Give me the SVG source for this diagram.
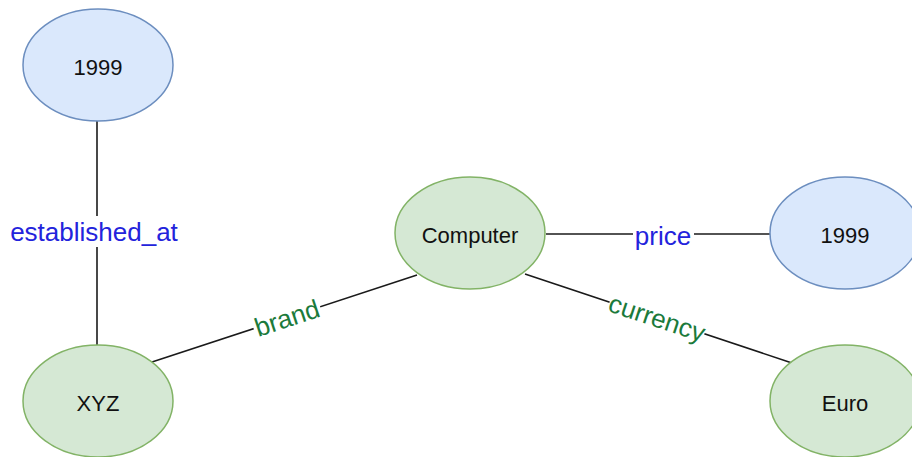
<svg xmlns="http://www.w3.org/2000/svg" width="912" height="457" viewBox="0 0 912 457">
  <style>
    .blue ellipse { fill: #dae8fc; stroke: #6c8ebf; stroke-width: 1.5; }
    .green ellipse { fill: #d5e8d4; stroke: #82b366; stroke-width: 1.5; }
    .node text { font-family: "Liberation Sans", Arial, sans-serif; font-size: 22px; fill: #111; text-anchor: middle; }
    .edge { stroke: #1a1a1a; stroke-width: 1.6; fill: none; }
    .lbl { font-family: "Liberation Sans", Arial, sans-serif; font-size: 26px; text-anchor: middle; }
    .lbl-blue { fill: #2323dc; }
    .lbl-green { fill: #1b7a3b; }
    .lbl-bg { fill: #ffffff; }
  </style>
  <rect width="912" height="457" fill="#ffffff"/>

  <g id="connectors">
    <!-- XYZ -> 1999 -->
    <line class="edge" x1="97" y1="121" x2="97" y2="345"/>
    <rect class="lbl-bg" x="8" y="216" width="172" height="31"/>
    <text class="lbl lbl-blue" x="94" y="241">established_at</text>

    <!-- Computer -> 1999 -->
    <line class="edge" x1="546" y1="234" x2="770" y2="234"/>
    <rect class="lbl-bg" x="633" y="220" width="61" height="30"/>
    <text class="lbl lbl-blue" x="663" y="245">price</text>

    <!-- XYZ -> Computer -->
    <line class="edge" x1="152" y1="362" x2="417" y2="275"/>
    <g transform="translate(287,318) rotate(-18.2)">
      <rect class="lbl-bg" x="-35" y="-15" width="70" height="29"/>
      <text class="lbl lbl-green" x="0" y="9">brand</text>
    </g>

    <!-- Computer -> Euro -->
    <line class="edge" x1="525" y1="274" x2="792" y2="363"/>
    <g transform="translate(657,318) rotate(18.4)">
      <rect class="lbl-bg" x="-50" y="-15" width="100" height="29"/>
      <text class="lbl lbl-green" x="0" y="9">currency</text>
    </g>
  </g>

  <g id="node-year-established" class="node blue">
    <ellipse cx="98" cy="65" rx="75" ry="56"/>
    <text x="98" y="75">1999</text>
  </g>

  <g id="node-xyz" class="node green">
    <ellipse cx="98" cy="401" rx="75" ry="56"/>
    <text x="98" y="411">XYZ</text>
  </g>

  <g id="node-computer" class="node green">
    <ellipse cx="470" cy="233" rx="75" ry="56"/>
    <text x="470" y="243">Computer</text>
  </g>

  <g id="node-price" class="node blue">
    <ellipse cx="845" cy="233" rx="75" ry="56"/>
    <text x="845" y="243">1999</text>
  </g>

  <g id="node-euro" class="node green">
    <ellipse cx="845" cy="401" rx="75" ry="56"/>
    <text x="845" y="411">Euro</text>
  </g>
</svg>
